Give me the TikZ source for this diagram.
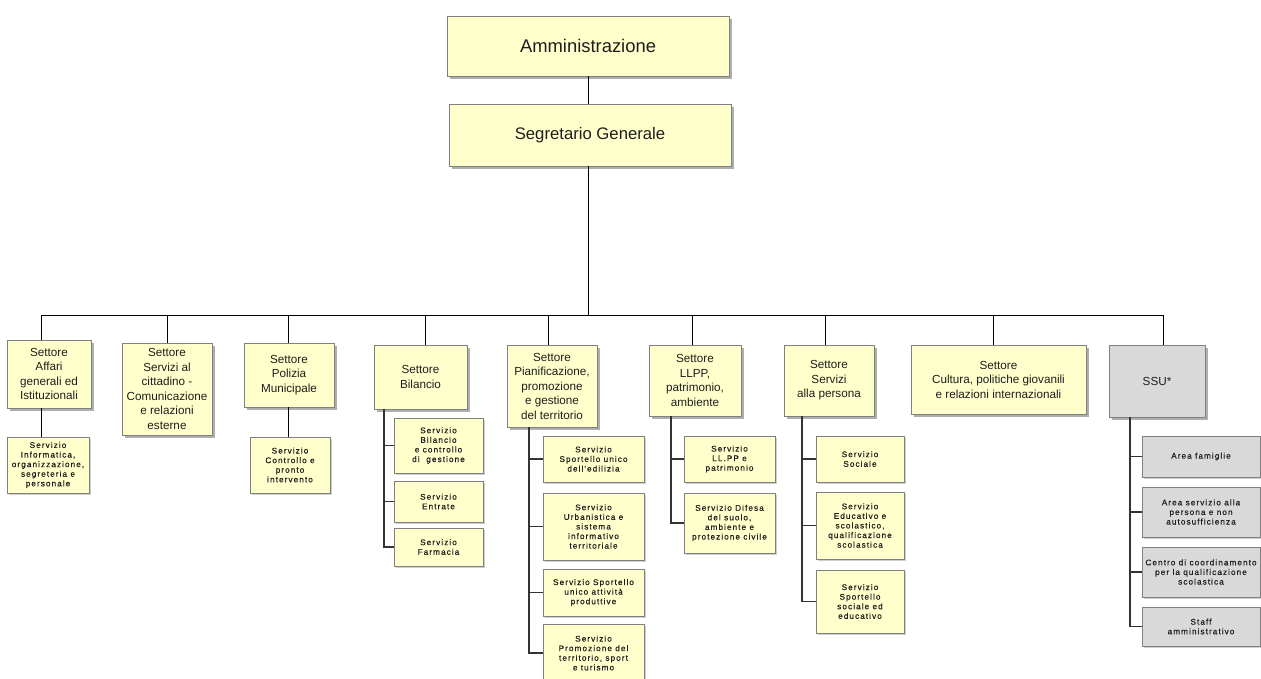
\documentclass[tikz,border=0pt]{standalone}
\usepackage{fontspec}
\setmainfont{Liberation Sans}
\newfontfamily\subfont[LetterSpace=13,FakeBold=0.5]{Liberation Sans}
\usetikzlibrary{shadows}
\definecolor{boxfill}{RGB}{255,255,204}
\definecolor{greyfill}{RGB}{217,217,217}
\definecolor{boxborder}{RGB}{128,128,128}
\definecolor{shadowc}{RGB}{175,175,175}
\definecolor{textc}{RGB}{30,30,30}
\begin{document}
\begin{tikzpicture}[x=1pt,y=-1pt,
  basebox/.style={draw=boxborder, line width=0.8pt, inner sep=1pt, outer sep=0pt,
    align=center, anchor=north west, text=textc},
  bigbox/.style={basebox, fill=boxfill,
    general shadow={fill=shadowc, shadow xshift=3pt, shadow yshift=-3pt}},
  settore/.style={bigbox, font=\fontsize{11.7}{14.5}\selectfont},
  subbox/.style={basebox, fill=boxfill,
    general shadow={fill=shadowc!60, shadow xshift=2pt, shadow yshift=-2pt},
    font=\subfont\fontsize{8.2}{9.6}\selectfont},
  grey/.style={fill=greyfill},
  conn/.style={draw=black, line width=1pt},
  spine/.style={draw=black!80, line width=1.1pt}]
\useasboundingbox (0,0) rectangle (1261,678);
\clip (0,0) rectangle (1261,678);

% top
\node[bigbox, minimum width=282pt, minimum height=60pt, font=\fontsize{18.4}{22}\selectfont] (amm) at (447,16) {Amministrazione};
\node[bigbox, minimum width=282pt, minimum height=62pt, font=\fontsize{16.7}{20}\selectfont] (seg) at (449,104) {Segretario Generale};

% settori
\node[settore, minimum width=84pt, minimum height=68pt] (aff) at (7,340) {Settore\\Affari\\generali ed\\Istituzionali};
\node[settore, minimum width=90pt, minimum height=92pt] (cit) at (122,343) {Settore\\Servizi al\\cittadino -\\Comunicazione\\e relazioni\\esterne};
\node[settore, minimum width=90pt, minimum height=64pt] (pol) at (244,343) {Settore\\Polizia\\Municipale};
\node[settore, minimum width=93pt, minimum height=64pt] (bil) at (374,345) {Settore\\Bilancio};
\node[settore, minimum width=90pt, minimum height=82pt] (pia) at (507,345) {Settore\\Pianificazione,\\promozione\\e gestione\\del territorio};
\node[settore, minimum width=92pt, minimum height=71pt] (llpp) at (649,345) {Settore\\LLPP,\\patrimonio,\\ambiente};
\node[settore, minimum width=90pt, minimum height=71pt] (per) at (784,345) {Settore\\Servizi\\alla persona};
\node[settore, minimum width=175pt, minimum height=69pt] (cul) at (911,345) {Settore\\Cultura, politiche giovanili\\e relazioni internazionali};
\node[settore, grey, minimum width=96pt, minimum height=72pt] (ssu) at (1109,345) {SSU*};

% servizi
\node[subbox, minimum width=82pt, minimum height=56pt] (affs) at (7,437) {Servizio\\Informatica,\\organizzazione,\\segreteria e\\personale};
\node[subbox, minimum width=80pt, minimum height=56pt] (pols) at (250,437) {Servizio\\Controllo e\\pronto\\intervento};
\node[subbox, minimum width=89pt, minimum height=55pt] (bs1) at (394,418) {Servizio\\Bilancio\\e controllo\\di\ \ gestione};
\node[subbox, minimum width=89pt, minimum height=41pt] (bs2) at (394,481) {Servizio\\Entrate};
\node[subbox, minimum width=89pt, minimum height=38pt] (bs3) at (394,528) {Servizio\\Farmacia};
\node[subbox, minimum width=101pt, minimum height=46pt] (ps1) at (543,436) {Servizio\\Sportello unico\\dell'edilizia};
\node[subbox, minimum width=101pt, minimum height=67pt] (ps2) at (543,493) {Servizio\\Urbanistica e\\sistema\\informativo\\territoriale};
\node[subbox, minimum width=101pt, minimum height=47pt] (ps3) at (543,569) {Servizio Sportello\\unico attività\\produttive};
\node[subbox, minimum width=101pt, minimum height=58pt] (ps4) at (543,624) {Servizio\\Promozione del\\territorio, sport\\e turismo};
\node[subbox, minimum width=91pt, minimum height=46pt] (ls1) at (684,436) {Servizio\\LL.PP e\\patrimonio};
\node[subbox, minimum width=91pt, minimum height=60pt] (ls2) at (684,493) {Servizio Difesa\\del suolo,\\ambiente e\\protezione civile};
\node[subbox, minimum width=88pt, minimum height=46pt] (es1) at (816,436) {Servizio\\Sociale};
\node[subbox, minimum width=88pt, minimum height=67pt] (es2) at (816,492) {Servizio\\Educativo e\\scolastico,\\qualificazione\\scolastica};
\node[subbox, minimum width=88pt, minimum height=63pt] (es3) at (816,570) {Servizio\\Sportello\\sociale ed\\educativo};
\node[subbox, grey, minimum width=118pt, minimum height=41pt] (ss1) at (1142,436) {Area famiglie};
\node[subbox, grey, minimum width=118pt, minimum height=50pt] (ss2) at (1142,487) {Area servizio alla\\persona e non\\autosufficienza};
\node[subbox, grey, minimum width=118pt, minimum height=50pt] (ss3) at (1142,547) {Centro di coordinamento\\per la qualificazione\\scolastica};
\node[subbox, grey, minimum width=118pt, minimum height=39pt] (ss4) at (1142,607) {Staff\\amministrativo};

% connectors
\coordinate (bus) at (0,315);
\coordinate (dAff) at (41,315);
\coordinate (dCit) at (167,315);
\coordinate (dPol) at (288,315);
\coordinate (dBil) at (425,315);
\coordinate (dPia) at (548,315);
\coordinate (dLl) at (692,315);
\coordinate (dPer) at (825,315);
\coordinate (dCul) at (993,315);
\coordinate (dSsu) at (1163,315);

\draw[conn] (amm.south) -- (amm.south |- seg.north);
\draw[conn] (amm.south |- seg.south) -- (amm.south |- bus);
\draw[conn] (dAff) -- (dSsu);
\foreach \d/\n in {dAff/aff, dCit/cit, dPol/pol, dBil/bil, dPia/pia, dLl/llpp, dPer/per, dCul/cul, dSsu/ssu}
  \draw[conn] (\d) -- (\d |- \n.north);
\draw[conn] (dAff |- aff.south) -- (dAff |- affs.north);
\draw[conn] (dPol |- pol.south) -- (dPol |- pols.north);

\coordinate (kBil) at (384,0);
\coordinate (kPia) at (529,0);
\coordinate (kLl) at (671,0);
\coordinate (kPer) at (802,0);
\coordinate (kSsu) at (1130,0);

\draw[spine] (kBil |- bil.south) -- (kBil |- bs3.west) -- (bs3.west);
\foreach \s in {bs1,bs2} \draw[spine] (kBil |- \s.west) -- (\s.west);
\draw[spine] (kPia |- pia.south) -- (kPia |- ps4.west) -- (ps4.west);
\foreach \s in {ps1,ps2,ps3} \draw[spine] (kPia |- \s.west) -- (\s.west);
\draw[spine] (kLl |- llpp.south) -- (kLl |- ls2.west) -- (ls2.west);
\draw[spine] (kLl |- ls1.west) -- (ls1.west);
\draw[spine] (kPer |- per.south) -- (kPer |- es3.west) -- (es3.west);
\foreach \s in {es1,es2} \draw[spine] (kPer |- \s.west) -- (\s.west);
\draw[spine] (kSsu |- ssu.south) -- (kSsu |- ss4.west) -- (ss4.west);
\foreach \s in {ss1,ss2,ss3} \draw[spine] (kSsu |- \s.west) -- (\s.west);
\end{tikzpicture}
\end{document}
